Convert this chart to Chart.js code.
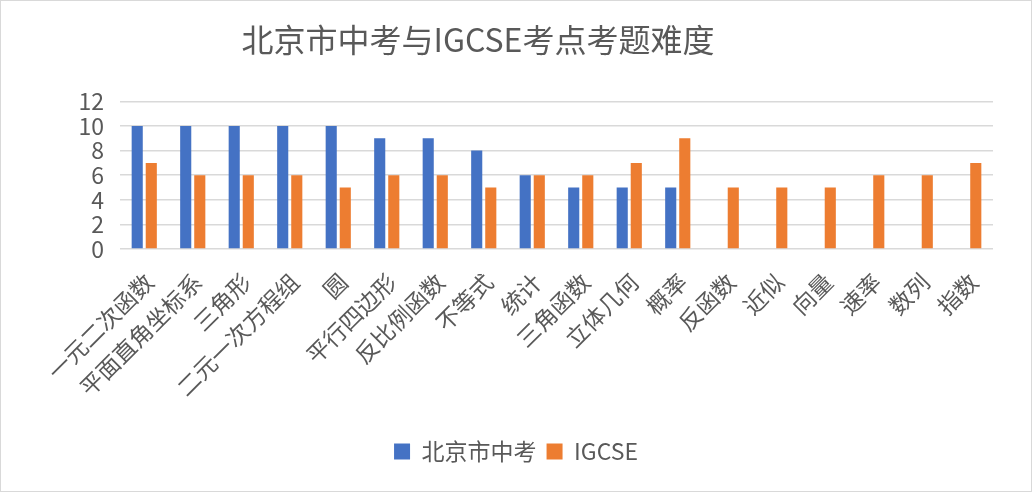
<!DOCTYPE html>
<html>
<head>
<meta charset="utf-8">
<script src="https://cdn.jsdelivr.net/npm/chart.js@4"></script>
<style>
    html, body { margin: 0; padding: 0; background: #fff; }
    #wrap { width: 1032px; height: 492px; box-sizing: border-box; border: 1px solid #d9d9d9; }
</style>
</head>
<body>
<div id="wrap"><canvas id="difficultyChart" width="1030" height="490"></canvas></div>
<script>
const topics = ['一元二次函数', '平面直角坐标系', '三角形', '二元一次方程组', '圆', '平行四边形', '反比例函数', '不等式', '统计',
    '三角函数', '立体几何', '概率', '反函数', '近似', '向量', '速率', '数列', '指数'];
const beijingScores = [10, 10, 10, 10, 10, 9, 9, 8, 6, 5, 5, 5, null, null, null, null, null, null];
const igcseScores = [7, 6, 6, 6, 5, 6, 6, 5, 6, 6, 7, 9, 5, 5, 5, 6, 6, 7];
const yTicks = [0, 2, 4, 6, 8, 10, 12];

const fontFamily = '"Noto Sans CJK SC", "Noto Sans", sans-serif';
const textColor = '#595959';

// title sits a bit left of centre, legend sits on the full-width centre
const nudgeBlocks = {
    id: 'nudgeBlocks',
    afterLayout(chart) {
        chart.titleBlock.left -= 19;
        chart.titleBlock.right -= 19;
        chart.legend.left += 19;
        chart.legend.right += 19;
    }
};

const ctx = document.getElementById('difficultyChart').getContext('2d');
new Chart(ctx, {
    type: 'bar',
    data: {
        labels: topics,
        datasets: [{
            label: '北京市中考',
            data: beijingScores,
            backgroundColor: '#4472C4',
            categoryPercentage: 0.58,
            barPercentage: 0.79,
        }, {
            label: 'IGCSE',
            data: igcseScores,
            backgroundColor: '#ED7D31',
            categoryPercentage: 0.58,
            barPercentage: 0.79,
        }]
    },
    options: {
        responsive: false,
        animation: false,
        layout: {
            padding: { left: 0, right: 38, top: 0, bottom: 18 }
        },
        plugins: {
            title: {
                display: true,
                text: '北京市中考与IGCSE考点考题难度',
                color: textColor,
                font: { family: fontFamily, size: 32, weight: 'normal' },
                padding: { top: 20, bottom: 42 }
            },
            legend: {
                position: 'bottom',
                labels: {
                    color: textColor,
                    font: { family: fontFamily, size: 23 },
                    boxWidth: 16,
                    boxHeight: 16,
                    padding: 10
                }
            },
            tooltip: { enabled: false }
        },
        scales: {
            x: {
                grid: { display: false },
                border: { display: false },
                ticks: {
                    color: textColor,
                    font: { family: fontFamily, size: 23 },
                    autoSkip: false,
                    minRotation: 45,
                    maxRotation: 45,
                    labelOffset: 5,
                    padding: 11
                },
                afterFit: function(scale) {
                    scale.height = 181;
                }
            },
            y: {
                min: 0,
                max: 12,
                afterBuildTicks: function(scale) {
                    scale.ticks = yTicks.map(v => ({ value: v }));
                },
                grid: { color: '#d9d9d9', lineWidth: 1.5, drawTicks: false },
                border: { display: false },
                ticks: {
                    color: textColor,
                    font: { family: fontFamily, size: 23 },
                    autoSkip: false,
                    padding: 16
                },
                afterFit: function(scale) {
                    scale.width = 119;
                }
            }
        }
    },
    plugins: [nudgeBlocks]
});
</script>
</body>
</html>
